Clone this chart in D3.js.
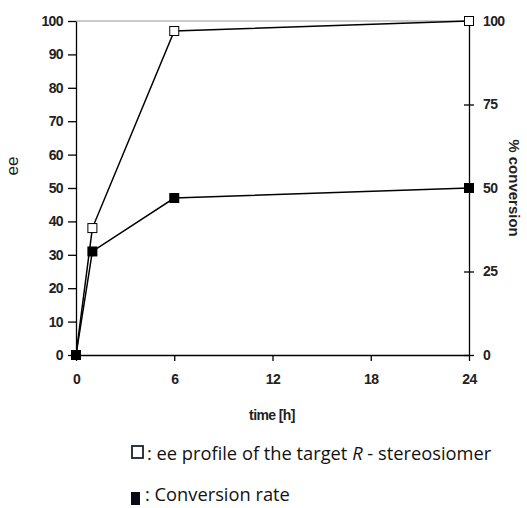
<!DOCTYPE html>
<html>
<head>
<meta charset="utf-8">
<script src="https://cdn.jsdelivr.net/npm/d3@7"></script>
<style>
  body { margin: 0; background: #fff; }
  .tick text { font-family: "Liberation Sans", Arial, sans-serif; font-weight: bold; font-size: 14px; letter-spacing: -0.6px; fill: #222; }
</style>
</head>
<body>
<div id="chart"></div>
<script>
// time points in hours
const times = [0, 1, 6, 24];
// ee of the target R-stereoisomer (left axis)
const eeValues = [0, 38, 97, 100];
// % conversion (right axis)
const conversionValues = [0, 31, 47, 50];
const xTicks = [0, 6, 12, 18, 24];
const leftTicks = [0, 10, 20, 30, 40, 50, 60, 70, 80, 90, 100];
const rightTicks = [0, 25, 50, 75, 100];

const W = 527, H = 508;
const plot = { left: 76, right: 469, top: 21, bottom: 355 };

const svg = d3.select("#chart").append("svg")
    .attr("width", W)
    .attr("height", H);

const x = d3.scaleLinear().domain([0, 24]).range([plot.left, plot.right]);
const yLeft = d3.scaleLinear().domain([0, 100]).range([plot.bottom, plot.top]);
const yRight = d3.scaleLinear().domain([0, 100]).range([plot.bottom, plot.top]);

// top border (grey)
svg.append("line")
    .attr("x1", plot.left).attr("x2", plot.right)
    .attr("y1", plot.top).attr("y2", plot.top)
    .attr("stroke", "#999").attr("stroke-width", 1);

// axes
svg.append("g")
    .attr("transform", `translate(${plot.left},0)`)
    .call(d3.axisLeft(yLeft).tickValues(leftTicks).tickSize(8).tickPadding(5).tickSizeOuter(0))
    .call(g => g.selectAll("line, path").attr("stroke", "#000").attr("stroke-width", 1.3));

svg.append("g")
    .attr("transform", `translate(${plot.right},0)`)
    .call(d3.axisRight(yRight).tickValues(rightTicks).tickSize(5).tickPadding(9).tickSizeOuter(0))
    .call(g => g.selectAll(".tick line").attr("x1", -5))
    .call(g => g.selectAll("line, path").attr("stroke", "#000").attr("stroke-width", 1.3));

svg.append("g")
    .attr("transform", `translate(0,${plot.bottom})`)
    .call(d3.axisBottom(x).tickValues(xTicks).tickSize(6).tickPadding(13).tickSizeOuter(0))
    .call(g => g.selectAll("line, path").attr("stroke", "#000").attr("stroke-width", 1.3));

// axis titles
svg.append("text")
    .attr("transform", `translate(18,166) rotate(-90)`)
    .attr("text-anchor", "middle")
    .attr("font-family", "Liberation Sans, Arial, sans-serif")
    .attr("font-size", 17)
    .attr("fill", "#222")
    .text("ee");

svg.append("text")
    .attr("transform", `translate(509,188) rotate(90)`)
    .attr("text-anchor", "middle")
    .attr("font-family", "Liberation Sans, Arial, sans-serif")
    .attr("font-weight", "bold")
    .attr("font-size", 15)
    .attr("fill", "#222")
    .text("% conversion");

svg.append("text")
    .attr("x", 272).attr("y", 420)
    .attr("text-anchor", "middle")
    .attr("font-family", "Liberation Sans, Arial, sans-serif")
    .attr("font-weight", "bold")
    .attr("font-size", 14)
    .attr("letter-spacing", -0.6)
    .attr("fill", "#222")
    .text("time [h]");

// series
const line = d3.line();
const eePts = times.map((t, i) => [x(t), yLeft(eeValues[i])]);
const convPts = times.map((t, i) => [x(t), yRight(conversionValues[i])]);

svg.append("path").attr("d", line(eePts))
    .attr("fill", "none").attr("stroke", "#000").attr("stroke-width", 1.5);
svg.append("path").attr("d", line(convPts))
    .attr("fill", "none").attr("stroke", "#000").attr("stroke-width", 1.5);

const sOpen = 9, sFill = 10;
svg.append("g").selectAll("rect")
    .data(eePts)
    .join("rect")
    .attr("x", d => d[0] - sOpen / 2)
    .attr("y", d => d[1] - sOpen / 2)
    .attr("width", sOpen).attr("height", sOpen)
    .attr("fill", "#fff").attr("stroke", "#000").attr("stroke-width", 1);

svg.append("g").selectAll("rect")
    .data(convPts)
    .join("rect")
    .attr("x", d => d[0] - sFill / 2)
    .attr("y", d => d[1] - sFill / 2)
    .attr("width", sFill).attr("height", sFill)
    .attr("fill", "#000");

// legend
const lg = svg.append("g")
    .attr("font-family", "Open Sans, Lato, sans-serif")
    .attr("font-size", 18.3)
    .attr("fill", "#111");

lg.append("rect")
    .attr("x", 132).attr("y", 446).attr("width", 11).attr("height", 12)
    .attr("fill", "#fff").attr("stroke", "#1a2230").attr("stroke-width", 1.8);
const t1 = lg.append("text").attr("x", 147).attr("y", 460);
t1.append("tspan").text(": ee profile of the target ");
t1.append("tspan").attr("font-style", "italic").text("R");
t1.append("tspan").text(" - stereosiomer");

lg.append("rect")
    .attr("x", 131).attr("y", 492).attr("width", 9).attr("height", 13)
    .attr("fill", "#0a0a14");
lg.append("text").attr("x", 145).attr("y", 501)
    .text(": Conversion rate");
</script>
</body>
</html>
